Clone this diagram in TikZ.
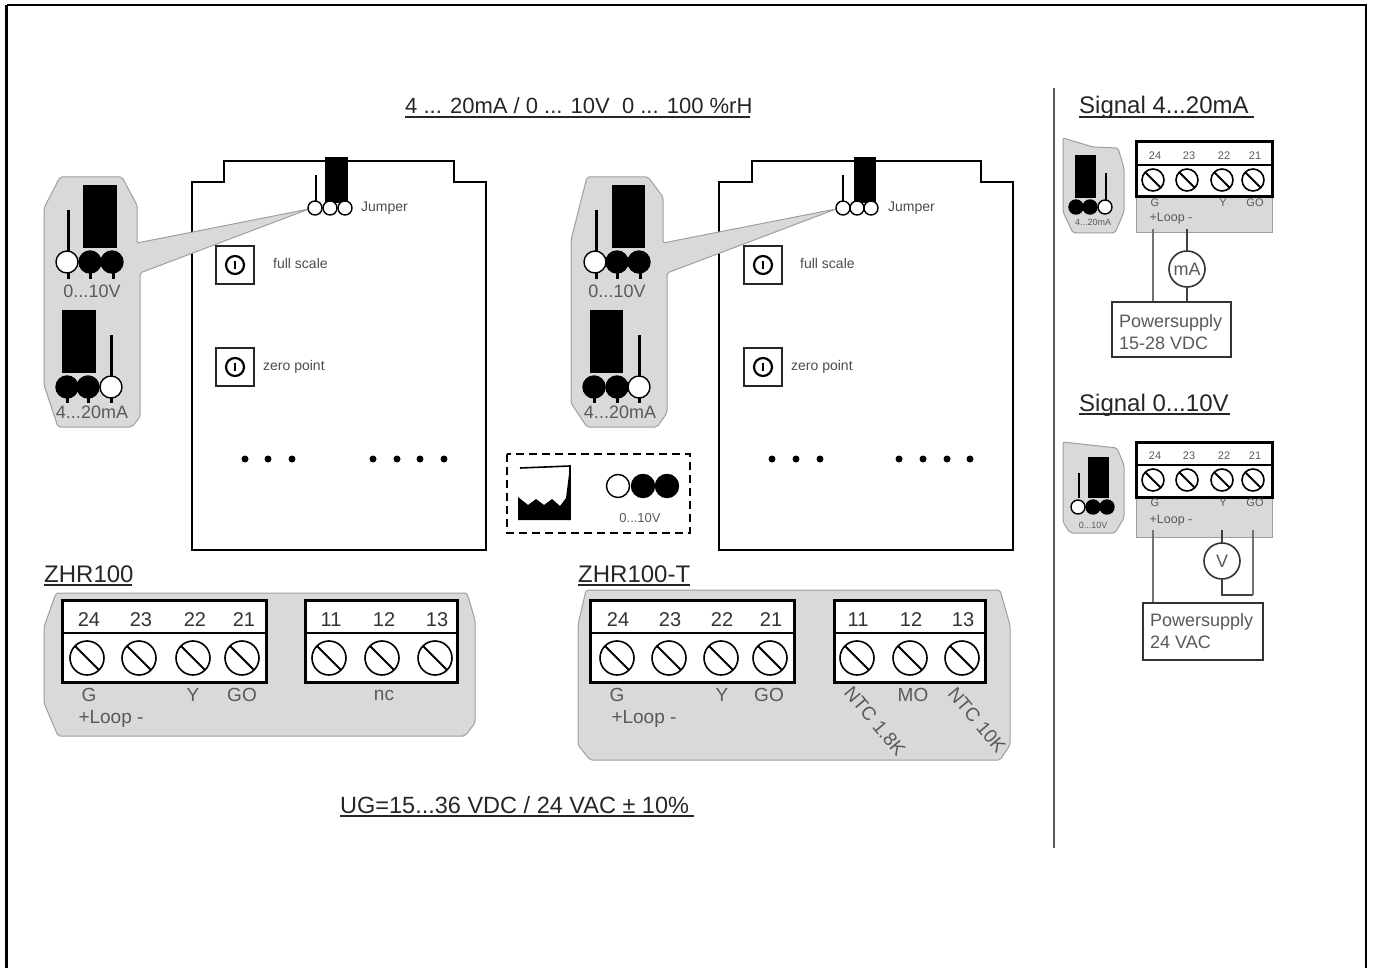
\documentclass[tikz,border=0pt]{standalone}
\usepackage{fontspec}
\setmainfont{Liberation Sans}
\definecolor{panel}{gray}{0.85}
\definecolor{lab}{gray}{0.35}
\tikzset{
  x=1pt,y=-1pt,
  panelshape/.style={fill=panel,draw=gray!75,line width=1pt,rounded corners=2pt},
  devbody/.style={draw=black,line width=1.6pt,fill=white},
  pinoff/.style={circle,draw=black,fill=white,inner sep=0pt,line width=1.4pt},
  pinon/.style={circle,draw=black,fill=black,inner sep=0pt,line width=1.4pt},
  title/.style={font=\fontsize{24}{26}\selectfont,text=black!85,inner sep=0pt},
  lbl/.style={font=\fontsize{19}{21}\selectfont,text=lab,inner sep=0pt},
  num/.style={font=\fontsize{20}{22}\selectfont,text=black!80,inner sep=0pt},
  tiny/.style={font=\fontsize{14}{16}\selectfont,text=black!70,inner sep=0pt},
  numsm/.style={font=\fontsize{11}{13}\selectfont,text=lab,inner sep=0pt},
  wire/.style={draw=black!75,line width=1.6pt},
  psbox/.style={draw=black!80,line width=1.6pt,fill=white,inner sep=0pt},
  meter/.style={circle,draw=black!80,line width=1.6pt,fill=white,inner sep=0pt,minimum size=36pt,font=\fontsize{18}{20}\selectfont,text=lab},
  uline/.style={draw=black!85,line width=1.4pt},
}
% adjustment box
\newcommand{\trimmer}[3]{% name, x0, y0
  \node[draw=black!85,line width=1.8pt,minimum width=38pt,minimum height=38pt,inner sep=0pt,fill=white] (#1) at (#2,#3) {};
  \node[circle,draw=black,line width=2.2pt,minimum size=18pt,inner sep=0pt] (#1c) at (#2,#3) {};
  \draw[black,line width=1.2pt] (#2,#3-4) -- (#2,#3+4);
}
% screw
\newcommand{\screw}[4]{% name x y r
  \draw[black,line width=1.6pt,fill=white] (#2,#3) circle[radius=#4];
  \coordinate (#1) at (#2,#3);
  \draw[black,line width=2pt] (#2-0.7*#4,#3-0.7*#4) -- (#2+0.7*#4,#3+0.7*#4);
}
\begin{document}
\begin{tikzpicture}
\useasboundingbox (0,0) rectangle (1374,968);
\draw[black,line width=2.4pt] (6.5,5) -- (1366,5) -- (1366,968) (6.5,5) -- (6.5,968);

% ---- titles
\node[title,font=\fontsize{22}{24}\selectfont,anchor=base west] (t1) at (405,114) {4 ... 20mA / 0 ... 10V  \ 0 ... 100 \%rH};
\draw[uline] (405,117) -- (750,117);
\node[title,anchor=base west] (t2) at (44,582) {ZHR100};
\draw[uline] (44,585) -- (132,585);
\node[title,anchor=base west] (t3) at (578,582) {ZHR100-T};
\draw[uline] (578,585) -- (690,585);
\node[title,font=\fontsize{23.5}{26}\selectfont,anchor=base west] (t4) at (340,813) {UG=15...36 VDC / 24 VAC ± 10\%};
\draw[uline] (340,816) -- (694,816);
\node[title,anchor=base west] (t5) at (1079,114) {Signal 4...20mA};
\draw[uline] (1079,117) -- (1254,117);
\node[title,anchor=base west] (t6) at (1079,411) {Signal 0...10V};
\draw[uline] (1079,414) -- (1230,414);
\draw[black!65,line width=1.2pt] (1054,88) -- (1054,848);

% ---- device 1
\draw[devbody] (192,182) -- (224,182) -- (224,161) -- (454,161) -- (454,182) -- (486,182) -- (486,550) -- (192,550) -- cycle;
% panel 1
\draw[panelshape] (60,177) -- (122,177) -- (137,205) -- (137,243) -- (309,209) -- (140,273) -- (140,417) -- (132,427) -- (58,427) -- (44,385) -- (44,208) -- cycle;
\fill[black] (83,185) rectangle (117,248);
\draw[black,line width=3pt] (68,210) -- (68,252);
\foreach \x in {68,90,113} \draw[black,line width=3pt] (\x,262) -- (\x,279);
\node[pinoff,minimum size=22pt] (p1a) at (67,262) {};
\node[pinon,minimum size=22pt] (p1b) at (90,262) {};
\node[pinon,minimum size=22pt] (p1c) at (112,262) {};
\node[lbl,font=\fontsize{18}{20}\selectfont] (l1) at (92,291) {0...10V};
\fill[black] (62,310) rectangle (96,373);
\draw[black,line width=3pt] (111,335) -- (111,378);
\foreach \x in {67,88,111} \draw[black,line width=3pt] (\x,387) -- (\x,403);
\node[pinon,minimum size=22pt] (p2a) at (67,387) {};
\node[pinon,minimum size=22pt] (p2b) at (88,387) {};
\node[pinoff,minimum size=22pt] (p2c) at (111,387) {};
\node[lbl,font=\fontsize{18}{20}\selectfont] (l2) at (92,412) {4...20mA};
% jumper on device 1
\fill[black] (325,157) rectangle (348,203);
\draw[black,line width=1.6pt] (316,175) -- (316,202);
\node[pinoff,minimum size=14pt] (j1a) at (315,208) {};
\node[pinoff,minimum size=14pt] (j1b) at (330,208) {};
\node[pinoff,minimum size=14pt] (j1c) at (345,208) {};
\node[tiny,anchor=west] (jt1) at (361,208) {Jumper};
\trimmer{fs1}{235}{265}
\trimmer{zp1}{235}{367}
\node[tiny,anchor=west] (fst1) at (273,263) {full scale};
\node[tiny,anchor=west] (zpt1) at (263,367) {zero point};
\foreach \x in {245,268,292,373,397,420,444} \fill[black] (\x,459) circle[radius=3.5];

% ---- device 2
\draw[devbody] (719,182) -- (752,182) -- (752,161) -- (981,161) -- (981,182) -- (1013,182) -- (1013,550) -- (719,550) -- cycle;
\draw[panelshape] (587,177) -- (648,177) -- (663,197) -- (663,243) -- (836,209) -- (667,273) -- (667,413) -- (657,427) -- (587,427) -- (571,403) -- (571,240) -- cycle;
\fill[black] (612,185) rectangle (645,248);
\draw[black,line width=3pt] (596,210) -- (596,252);
\foreach \x in {596,617,640} \draw[black,line width=3pt] (\x,262) -- (\x,279);
\node[pinoff,minimum size=22pt] (p3a) at (595,262) {};
\node[pinon,minimum size=22pt] (p3b) at (617,262) {};
\node[pinon,minimum size=22pt] (p3c) at (639,262) {};
\node[lbl,font=\fontsize{18}{20}\selectfont] (l3) at (617,291) {0...10V};
\fill[black] (590,310) rectangle (623,373);
\draw[black,line width=3pt] (639,335) -- (639,378);
\foreach \x in {594,617,639} \draw[black,line width=3pt] (\x,387) -- (\x,403);
\node[pinon,minimum size=22pt] (p4a) at (594,387) {};
\node[pinon,minimum size=22pt] (p4b) at (617,387) {};
\node[pinoff,minimum size=22pt] (p4c) at (639,387) {};
\node[lbl,font=\fontsize{18}{20}\selectfont] (l4) at (620,412) {4...20mA};
\fill[black] (854,157) rectangle (876,203);
\draw[black,line width=1.6pt] (843,175) -- (843,202);
\node[pinoff,minimum size=14pt] (j2a) at (843,208) {};
\node[pinoff,minimum size=14pt] (j2b) at (857,208) {};
\node[pinoff,minimum size=14pt] (j2c) at (871,208) {};
\node[tiny,anchor=west] (jt2) at (888,208) {Jumper};
\trimmer{fs2}{763}{265}
\trimmer{zp2}{763}{367}
\node[tiny,anchor=west] (fst2) at (800,263) {full scale};
\node[tiny,anchor=west] (zpt2) at (791,367) {zero point};
\foreach \x in {772,796,820,899,923,947,970} \fill[black] (\x,459) circle[radius=3.5];

% ---- dashed legend
\draw[black,line width=1.8pt,dashed,dash pattern=on 8pt off 5pt] (507,454) rectangle (690,533);
\draw[black,line width=1.6pt] (520,468) -- (570,466) -- (570,520);
\fill[black] (518,497) -- (528,505) -- (536,499) -- (544,505) -- (552,499) -- (560,506) -- (566,498) -- (570,466) -- (570,520) -- (518,520) -- cycle;
\node[pinoff,minimum size=23pt] (la) at (618,486) {};
\node[pinon,minimum size=23pt] (lb) at (643,486) {};
\node[pinon,minimum size=23pt] (lc) at (667,486) {};
\node[lbl,font=\fontsize{13}{15}\selectfont] (lt) at (640,518) {0...10V};

% ---- ZHR100 terminals
\draw[panelshape] (56,593) -- (467,593) -- (475,620) -- (475,723) -- (465,736) -- (58,736) -- (44,703) -- (44,627) -- cycle;
\draw[black,line width=3pt,fill=white] (62,600) rectangle (266,682);
\draw[black,line width=2pt] (62,633) -- (266,633);
\draw[black,line width=3pt,fill=white] (305,600) rectangle (457,682);
\draw[black,line width=2pt] (305,633) -- (457,633);
\foreach \n/\x/\t in {a/87/24,b/139/23,c/193/22,d/242/21,e/329/11,f/382/12,g/435/13}{
  \screw{sa\n}{\x}{658}{17}
  \node[num] (na\n) at (\x+2,620) {\t};
}
\node[lbl] (g1) at (89,695) {G};
\node[lbl] (y1) at (193,695) {Y};
\node[lbl] (go1) at (242,695) {GO};
\node[lbl] (nc1) at (384,695) {nc};
\node[lbl] (lp1) at (111,719) {+Loop -};

% ---- ZHR100-T terminals
\draw[panelshape] (586,590) -- (1000,590) -- (1010,625) -- (1010,745) -- (1000,760) -- (590,760) -- (578,745) -- (578,625) -- cycle;
\draw[black,line width=3pt,fill=white] (590,600) rectangle (794,682);
\draw[black,line width=2pt] (590,633) -- (794,633);
\draw[black,line width=3pt,fill=white] (834,600) rectangle (985,682);
\draw[black,line width=2pt] (834,633) -- (985,633);
\foreach \n/\x/\t in {a/617/24,b/669/23,c/721/22,d/770/21,e/857/11,f/910/12,g/962/13}{
  \screw{sb\n}{\x}{658}{17}
  \node[num] (nb\n) at (\x+1,620) {\t};
}
\node[lbl] (g2) at (617,695) {G};
\node[lbl] (y2) at (722,695) {Y};
\node[lbl] (go2) at (769,695) {GO};
\node[lbl] (mo2) at (913,695) {MO};
\node[lbl] (lp2) at (644,719) {+Loop -};
\node[lbl,rotate=-50] (ntc1) at (875,721) {NTC 1.8K};
\node[lbl,rotate=-50] (ntc2) at (977,720) {NTC 10K};

% ---- Signal 4..20mA
\draw[panelshape] (1063,138) -- (1093,147) -- (1118,148) -- (1124,168) -- (1124,212) -- (1115,233) -- (1073,233) -- (1063,212) -- cycle;
\fill[black] (1075,155) rectangle (1096,198);
\draw[black,line width=2pt] (1106,173) -- (1106,200);
\node[pinon,minimum size=14pt] (s1a) at (1076,207) {};
\node[pinon,minimum size=14pt] (s1b) at (1090,207) {};
\node[pinoff,minimum size=14pt] (s1c) at (1105,207) {};
\node[numsm,font=\fontsize{9}{10}\selectfont] (s1t) at (1093,222) {4...20mA};
\draw[panelshape,rounded corners=0pt] (1136,142) rectangle (1272,233);
\draw[black,line width=3pt,fill=white] (1136,142) rectangle (1272,197);
\draw[black,line width=1.6pt] (1136,165) -- (1272,165);
\foreach \n/\x/\t in {a/1153/24,b/1187/23,c/1222/22,d/1253/21}{
  \screw{sc\n}{\x}{180}{11}
  \node[numsm] (nc\n) at (\x+2,156) {\t};
}
\node[numsm] (g3) at (1155,203) {G};
\node[numsm] (y3) at (1223,203) {Y};
\node[numsm] (go3) at (1255,203) {GO};
\node[numsm,font=\fontsize{12.5}{14}\selectfont] (lp3) at (1171,218) {+Loop -};
\node[psbox,minimum width=119pt,minimum height=55pt] (ps1) at (1171.5,329.5) {};
\node[lbl,anchor=west,font=\fontsize{18}{22}\selectfont,align=left] (ps1t) at (1119,332) {Powersupply\\15-28 VDC};
\node[meter] (m1) at (1187,269) {mA};
\coordinate (w1a) at (1153,229);
\coordinate (w1b) at (1187,229);
\draw[wire,draw=black!55,line width=2.4pt] (w1a) -- (w1a |- ps1.north);
\draw[wire] (w1b) -- (m1);
\draw[wire] (m1) -- (m1 |- ps1.north);

% ---- Signal 0..10V
\draw[panelshape] (1063,442) -- (1117,448) -- (1124,465) -- (1124,518) -- (1115,533) -- (1070,533) -- (1063,522) -- cycle;
\fill[black] (1088,457) rectangle (1109,498);
\draw[black,line width=2pt] (1079,473) -- (1079,498);
\node[pinoff,minimum size=14pt] (s2a) at (1078,507) {};
\node[pinon,minimum size=14pt] (s2b) at (1093,507) {};
\node[pinon,minimum size=14pt] (s2c) at (1107,507) {};
\node[numsm,font=\fontsize{9}{10}\selectfont] (s2t) at (1093,525) {0...10V};
\draw[panelshape,rounded corners=0pt] (1136,442) rectangle (1272,537);
\draw[black,line width=3pt,fill=white] (1136,442) rectangle (1272,497);
\draw[black,line width=1.6pt] (1136,465) -- (1272,465);
\foreach \n/\x/\t in {a/1153/24,b/1187/23,c/1222/22,d/1253/21}{
  \screw{sd\n}{\x}{480}{11}
  \node[numsm] (nd\n) at (\x+2,456) {\t};
}
\node[numsm] (g4) at (1155,503) {G};
\node[numsm] (y4) at (1223,503) {Y};
\node[numsm] (go4) at (1255,503) {GO};
\node[numsm,font=\fontsize{12.5}{14}\selectfont] (lp4) at (1171,520) {+Loop -};
\node[psbox,minimum width=120pt,minimum height=57pt] (ps2) at (1203,631.5) {};
\node[lbl,anchor=west,font=\fontsize{18}{22}\selectfont,align=left] (ps2t) at (1150,631) {Powersupply\\24 VAC};
\node[meter] (m2) at (1222,561) {V};
\coordinate (w2a) at (1153,530);
\coordinate (w2b) at (1222,530);
\coordinate (w2c) at (1253,530);
\coordinate (w2d) at (1253,595);
\draw[wire,draw=black!55,line width=2.4pt] (w2a) -- (w2a |- ps2.north);
\draw[wire] (w2b) -- (m2);
\draw[wire] (m2) -- (m2 |- w2d) -- (w2d);
\draw[wire,draw=black!55,line width=2.4pt] (w2c) -- (w2d);
\end{tikzpicture}
\end{document}
